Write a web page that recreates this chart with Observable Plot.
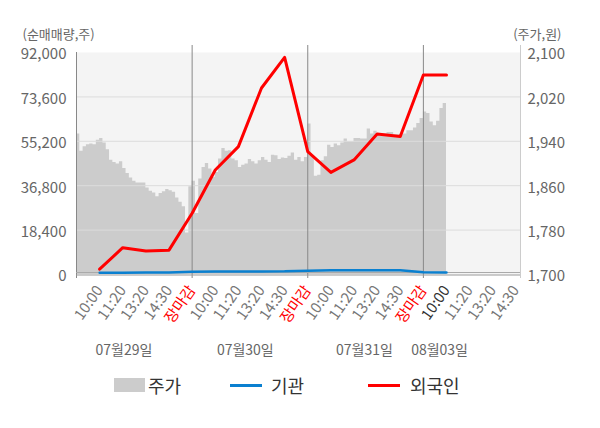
<!DOCTYPE html>
<html><head><meta charset="utf-8">
<script src="https://cdn.jsdelivr.net/npm/d3@7"></script>
<script src="https://cdn.jsdelivr.net/npm/@observablehq/plot@0.6"></script>
<style>
body{margin:0;background:#fff;font-family:'Noto Sans CJK KR','Noto Sans',sans-serif;}
#wrap{position:relative;width:600px;height:428px;overflow:hidden;}
#chart{position:absolute;left:0;top:0;}
.lg{position:absolute;}
.lt{position:absolute;font-size:18px;line-height:24px;color:#333;}
</style></head><body>
<div id="wrap"><div id="chart"></div>
<div class="lg" style="left:114px;top:378px;width:31px;height:14px;background:#cccccc"></div>
<div class="lt" style="left:148px;top:373px">주가</div>
<div class="lg" style="left:230px;top:384px;width:32px;height:3px;background:#0a80d0"></div>
<div class="lt" style="left:271px;top:373px">기관</div>
<div class="lg" style="left:368px;top:384px;width:32px;height:3px;background:#ff0000"></div>
<div class="lt" style="left:410px;top:373px">외국인</div>
</div>
<script>
// ---- data ----
const days = ["07월29일", "07월30일", "07월31일", "08월03일"];
const dayLabelPos = [2.05, 7.3, 12.45, 15.7];
const slotLabels = ["10:00", "11:20", "13:20", "14:30", "장마감"];
const slotsShown = [5, 5, 5, 4];
const currentSlot = 15; // 08월03일 10:00
// 외국인 cumulative net buying (shares), one value per slot
const foreign = [2200, 11100, 9700, 10100, 25400,
                 43300, 53000, 77300, 90000, 50900,
                 42300, 47500, 58200, 57200, 82700,
                 82700];
// 기관 cumulative net buying (shares)
const institution = [750, 750, 780, 800, 1170,
                     1250, 1250, 1250, 1300, 1600,
                     1750, 1750, 1750, 1750, 900,
                     850];
const volTicks = [0, 18400, 36800, 55200, 73600, 92000];
const priceTicks = [1700, 1780, 1860, 1940, 2020, 2100];
// 주가 intraday samples (won)
const priceDay1 = [1953, 1922, 1930, 1934, 1935, 1934, 1942, 1945, 1937, 1925,
                   1906, 1902, 1899, 1903, 1891, 1882, 1874, 1868, 1865, 1865,
                   1865, 1856, 1850, 1847, 1840, 1846, 1849, 1853, 1851, 1848,
                   1838, 1830, 1822, 1775, 1858];
const priceDay2 = [1868, 1810, 1872, 1893, 1900, 1890, 1875, 1884, 1908, 1927,
                   1922, 1923, 1908, 1905, 1893, 1897, 1899, 1907, 1903, 1899,
                   1905, 1911, 1906, 1902, 1915, 1914, 1907, 1910, 1909, 1913,
                   1919, 1906, 1911, 1903, 1911];
const priceDay3 = [1971, 1914, 1877, 1879, 1905, 1912, 1933, 1929, 1935, 1932,
                   1937, 1944, 1939, 1939, 1945, 1945, 1944, 1944, 1962, 1953,
                   1958, 1953, 1953, 1953, 1956, 1956, 1952, 1952, 1952, 1953,
                   1959, 1959, 1964, 1972, 1981];
const priceDay4 = [1993, 1990, 1975, 1968, 1976, 1999, 2008, 2016];

// ---- derived tables ----
const PMIN = 1700, PMAX = 2100, VMAX = 92000;
const toVol = p => (p - PMIN) / (PMAX - PMIN) * VMAX;
const samplesPerDay = 35;
const priceRows = [];
[priceDay1, priceDay2, priceDay3, priceDay4].forEach((arr, d) => {
  arr.forEach((p, k) => priceRows.push({x: d * 5 + k * 5 / samplesPerDay, v: toVol(p)}));
});
const foreignRows = foreign.map((v, i) => ({x: i + 1, v}));
const instRows = institution.map((v, i) => ({x: i + 1, v}));
const tickRows = [];
slotsShown.forEach((n, d) => {
  for (let s = 0; s < n; s++) {
    const idx = d * 5 + s;
    tickRows.push({
      x: idx + 1,
      label: slotLabels[s],
      color: slotLabels[s] === "장마감" ? "#ff0000" : (idx === currentSlot ? "#333333" : "#777777")
    });
  }
});
const dayRows = days.map((t, i) => ({x: dayLabelPos[i], t}));
const XMAX = 19.2;
const font = "'Noto Sans CJK KR','Noto Sans',sans-serif";
const fmt = d3.format(",");

const chart = Plot.plot({
  width: 600,
  height: 365,
  marginLeft: 76,
  marginRight: 80,
  marginTop: 52,
  marginBottom: 91,
  style: {fontFamily: font, background: "transparent", overflow: "visible"},
  x: {domain: [0, XMAX], axis: null},
  y: {domain: [0, VMAX], axis: null},
  marks: [
    Plot.frame({fill: "#f4f4f4", stroke: null}),
    Plot.areaY(priceRows, {x: "x", y1: 0, y2: "v", fill: "#cccccc", curve: "step-after"}),
    Plot.ruleY(volTicks.slice(1, -1), {stroke: "#dcdcdc", strokeWidth: 1}),
    Plot.ruleX([5, 10, 15], {stroke: "#888", strokeWidth: 1, insetTop: -7, insetBottom: -4}),
    Plot.ruleX([0], {stroke: "#888", strokeWidth: 1, insetBottom: -4}),
    Plot.ruleX([XMAX], {stroke: "#cccccc", strokeWidth: 1, insetTop: -7, insetBottom: -4}),
    Plot.ruleY([0], {stroke: "#aaaaaa", strokeWidth: 1, dy: -2}),
    Plot.ruleY([0], {stroke: "#999999", strokeWidth: 1, dy: 0.5}),
    Plot.line(instRows, {x: "x", y: "v", stroke: "#0a80d0", strokeWidth: 2.5}),
    Plot.line(foreignRows, {x: "x", y: "v", stroke: "#ff0000", strokeWidth: 3}),
    // left axis labels
    Plot.text(volTicks, {y: d => d, frameAnchor: "left", textAnchor: "end", dx: -10, dy: 2,
      text: d => fmt(d), fontSize: 15, fill: "#666"}),
    // right axis labels
    Plot.text(priceTicks, {y: d => toVol(d), frameAnchor: "right", textAnchor: "start", dx: 7, dy: 2,
      text: d => fmt(d), fontSize: 15, fill: "#666"}),
    // x tick labels
    Plot.text(tickRows, {x: "x", frameAnchor: "bottom", text: "label", fill: "color",
      rotate: -55, textAnchor: "end", lineAnchor: "middle", dy: 13, dx: 0, fontSize: 15}),
    // day labels
    Plot.text(dayRows, {x: "x", frameAnchor: "bottom", text: "t", dy: 80, fontSize: 14, fill: "#666"}),
    // axis titles
    Plot.text(["(순매매량,주)"], {frameAnchor: "top-left", textAnchor: "start", dx: -54, dy: -23,
      fontSize: 13, fill: "#666"}),
    Plot.text(["(주가,원)"], {frameAnchor: "top-right", textAnchor: "end", dx: 41, dy: -23,
      fontSize: 13, fill: "#666"})
  ]
});
document.getElementById("chart").appendChild(chart);
</script>
</body></html>
